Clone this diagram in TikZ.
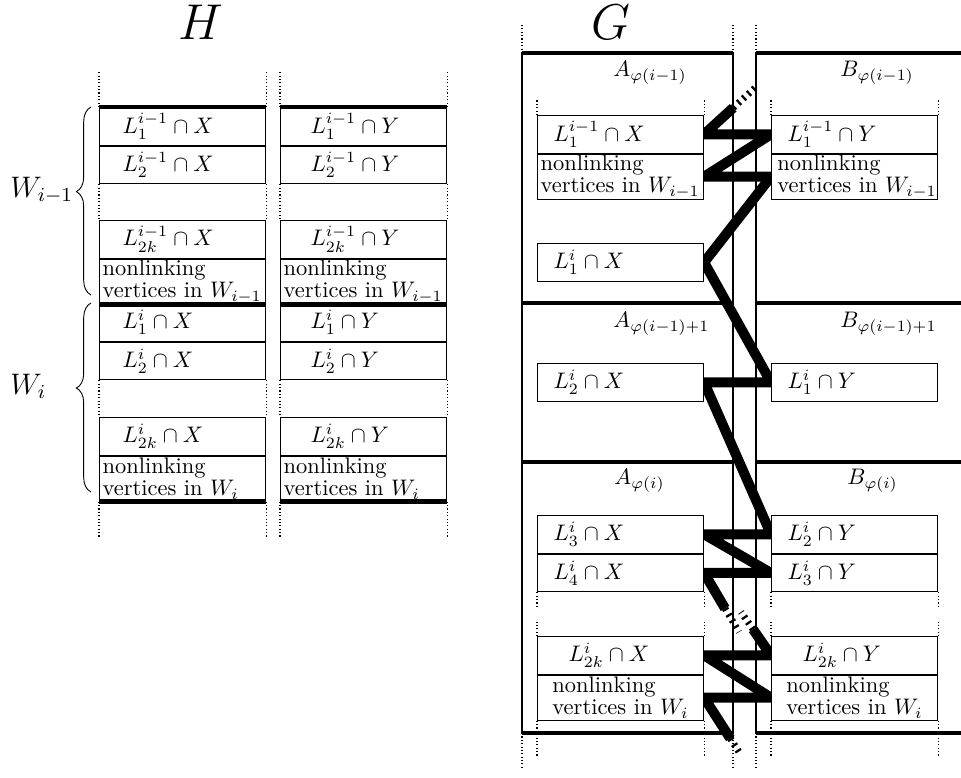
\documentclass[tikz,border=0pt]{standalone}
\usetikzlibrary{positioning,calc,backgrounds,decorations.pathreplacing}

\begin{document}
\begin{tikzpicture}[
    x=0.445pt,
    y=-0.445pt,
    line join=miter,
    box/.style={draw, line width=0.5pt, fill=white, anchor=north west,
        inner xsep=1.33pt, inner ysep=0pt, text width=71.2pt,
        minimum height=16.7pt, align=left,
        font=\fontsize{10}{8.4}\selectfont},
    nlbox/.style={box, minimum height=20pt},
    sep/.style={line width=2.2pt},
    frame/.style={line width=0.6pt},
    guide/.style={densely dotted, line width=0.5pt},
    link/.style={line width=4.45pt},
    linkdash/.style={line width=3pt, dash pattern=on 1pt off 2pt},
    lab/.style={inner sep=0pt, anchor=base west}
]

\useasboundingbox (0,0) rectangle (961,777);

% Titles
\node[lab, anchor=base, font=\Huge, scale=0.9] (titleH) at (201,39) {$H$};
\node[lab, anchor=base, font=\Huge, scale=0.9] (titleG) at (611,39) {$G$};

% H: column of X
\node[box] (hx1) at (99,107) {\hspace*{8.9pt}$L_1^{i-1}\cap X$};
\node[box, below=0pt of hx1] (hx2) {\hspace*{8.9pt}$L_2^{i-1}\cap X$};
\node[box] (hx3) at (99,220) {\hspace*{8.9pt}$L_{2k}^{i-1}\cap X$};
\node[nlbox, below=0pt of hx3] (hnx1) {nonlinking\\\mbox{vertices in $W_{i-1}$}};
\node[box] (hx4) at (99,303) {\hspace*{8.9pt}$L_1^i\cap X$};
\node[box, below=0pt of hx4] (hx5) {\hspace*{8.9pt}$L_2^i\cap X$};
\node[box] (hx6) at (99,417) {\hspace*{8.9pt}$L_{2k}^i\cap X$};
\node[nlbox, below=0pt of hx6] (hnx2) {nonlinking\\\mbox{vertices in $W_i$}};

% H: column of Y
\node[box] (hy1) at (280,107) {\hspace*{12pt}$L_1^{i-1}\cap Y$};
\node[box, below=0pt of hy1] (hy2) {\hspace*{12pt}$L_2^{i-1}\cap Y$};
\node[box] (hy3) at (280,220) {\hspace*{12pt}$L_{2k}^{i-1}\cap Y$};
\node[nlbox, below=0pt of hy3] (hny1) {nonlinking\\\mbox{vertices in $W_{i-1}$}};
\node[box] (hy4) at (280,303) {\hspace*{12pt}$L_1^i\cap Y$};
\node[box, below=0pt of hy4] (hy5) {\hspace*{12pt}$L_2^i\cap Y$};
\node[box] (hy6) at (280,417) {\hspace*{12pt}$L_{2k}^i\cap Y$};
\node[nlbox, below=0pt of hy6] (hny2) {nonlinking\\\mbox{vertices in $W_i$}};

% H: thick borders of W_{i-1} and W_i
\draw[sep] (hx1.north west) -- (hx1.north east) (hy1.north west) -- (hy1.north east);
\draw[sep] (hnx1.south west) -- (hnx1.south east) (hny1.south west) -- (hny1.south east);
\draw[sep] (hnx2.south west) -- (hnx2.south east) (hny2.south west) -- (hny2.south east);

% H: dotted continuations
\draw[guide] (hx1.north west) -- ++(0,-36) (hx1.north east) -- ++(0,-36)
    (hy1.north west) -- ++(0,-36) (hy1.north east) -- ++(0,-36);
\draw[guide] (hx2.south west) -- (hx3.north west) (hx2.south east) -- (hx3.north east)
    (hy2.south west) -- (hy3.north west) (hy2.south east) -- (hy3.north east);
\draw[guide] (hx5.south west) -- (hx6.north west) (hx5.south east) -- (hx6.north east)
    (hy5.south west) -- (hy6.north west) (hy5.south east) -- (hy6.north east);
\draw[guide] (hnx2.south west) -- ++(0,36) (hnx2.south east) -- ++(0,36)
    (hny2.south west) -- ++(0,36) (hny2.south east) -- ++(0,36);

% H: braces for W_{i-1} and W_i
\draw[decorate, decoration={brace, amplitude=6.5pt, aspect=0.55}] (91,295) -- (91,107);
\draw[decorate, decoration={brace, amplitude=6.5pt, aspect=0.55}] (91,492) -- (91,303);
\node[lab, font=\large, scale=1.1] (wprev) at (10,197) {$W_{i-1}$};
\node[lab, font=\large, scale=1.1] (wcur) at (10,394) {$W_i$};

% G: frame of the two sides
\draw[frame] (522,53) -- (522,733);
\draw[frame] (733,53) -- (733,733);
\draw[frame] (756,53) -- (756,733);
\draw[guide] (522,25) -- (522,53) (733,25) -- (733,53) (756,25) -- (756,53);
\draw[guide] (522,733) -- (522,770) (733,733) -- (733,770) (756,733) -- (756,770);

% G: thick borders between the parts
\draw[sep] (522,53) -- (733,53) (756,53) -- (961,53);
\draw[sep] (522,303) -- (733,303) (756,303) -- (961,303);
\draw[sep] (522,462) -- (733,462) (756,462) -- (961,462);
\draw[sep] (522,733) -- (733,733) (756,733) -- (961,733);

% G: names of the parts
\node[lab] (pa1) at (613,76) {$A_{\varphi(i-1)}$};
\node[lab] (pb1) at (840,76) {$B_{\varphi(i-1)}$};
\node[lab] (pa2) at (613,327) {$A_{\varphi(i-1)+1}$};
\node[lab] (pb2) at (840,327) {$B_{\varphi(i-1)+1}$};
\node[lab] (pa3) at (614,484) {$A_{\varphi(i)}$};
\node[lab] (pb3) at (847,484) {$B_{\varphi(i)}$};

% G: side A
\node[box] (ax1) at (537,115) {\hspace*{5.8pt}$L_1^{i-1}\cap X$};
\node[nlbox, below=0pt of ax1] (anx1) {nonlinking\\\mbox{vertices in $W_{i-1}$}};
\node[box] (ax2) at (537,243) {\hspace*{5.8pt}$L_1^i\cap X$};
\node[box] (ax3) at (537,363) {\hspace*{5.8pt}$L_2^i\cap X$};
\node[box] (ax4) at (537,515) {\hspace*{5.8pt}$L_3^i\cap X$};
\node[box, below=0pt of ax4] (ax5) {\hspace*{5.8pt}$L_4^i\cap X$};
\node[box] (ax6) at (537,636) {\hspace*{12.5pt}$L_{2k}^i\cap X$};
\node[nlbox, below=0pt of ax6] (anx2) {\hspace*{5.3pt}nonlinking\\\hspace*{5.3pt}\mbox{vertices in $W_i$}};

% G: side B
\node[box] (by1) at (771,115) {\hspace*{5.8pt}$L_1^{i-1}\cap Y$};
\node[nlbox, below=0pt of by1] (bny1) {\hspace*{1.3pt}nonlinking\\\hspace*{1.3pt}\mbox{vertices in $W_{i-1}$}};
\node[box] (by2) at (771,363) {\hspace*{5.8pt}$L_1^i\cap Y$};
\node[box] (by3) at (771,515) {\hspace*{5.8pt}$L_2^i\cap Y$};
\node[box, below=0pt of by3] (by4) {\hspace*{5.8pt}$L_3^i\cap Y$};
\node[box] (by5) at (771,636) {\hspace*{12.5pt}$L_{2k}^i\cap Y$};
\node[nlbox, below=0pt of by5] (bny2) {\hspace*{5.3pt}nonlinking\\\hspace*{5.3pt}\mbox{vertices in $W_i$}};

% G: dotted continuations of the boxes
\draw[guide] (ax1.north west) -- ++(0,-16) (ax1.north east) -- ++(0,-16)
    (by1.north west) -- ++(0,-16) (by1.north east) -- ++(0,-16);
\draw[guide] (ax5.south west) -- ++(0,15) (ax5.south east) -- ++(0,15)
    (by4.south west) -- ++(0,15) (by4.south east) -- ++(0,15);
\draw[guide] (ax6.north west) -- ++(0,-14) (ax6.north east) -- ++(0,-14)
    (by5.north west) -- ++(0,-14) (by5.north east) -- ++(0,-14);
\draw[guide] (anx2.south west) -- ++(0,36) (anx2.south east) -- ++(0,36)
    (bny2.south west) -- ++(0,36) (bny2.south east) -- ++(0,36);

% Loose ends of the path
\coordinate (t1) at (757,86);
\coordinate (m1) at (739,632);
\coordinate (m2) at (741,612);
\coordinate (b1) at (739,752);

% The path zigzagging between A and B
\begin{scope}[on background layer]
\draw[link] ($(ax1.east)!0.55!(t1)$) -- (ax1.east) -- (by1.west) -- (anx1.east)
    -- (bny1.west) -- (ax2.east) -- (by2.west) -- (ax3.east) -- (by3.west)
    -- (ax4.east) -- (by4.west) -- (ax5.east) -- ($(ax5.east)!0.6!(m1)$);
\draw[linkdash] ($(ax1.east)!0.55!(t1)$) -- (t1);
\draw[linkdash] ($(ax5.east)!0.6!(m1)$) -- (m1);

\draw[link] ($(by5.west)!0.6!(m2)$) -- (by5.west) -- (ax6.east) -- (bny2.west)
    -- (anx2.east) -- ($(anx2.east)!0.75!(b1)$);
\draw[linkdash] ($(by5.west)!0.6!(m2)$) -- (m2);
\draw[linkdash] ($(anx2.east)!0.75!(b1)$) -- (b1);
\end{scope}

\end{tikzpicture}
\end{document}
